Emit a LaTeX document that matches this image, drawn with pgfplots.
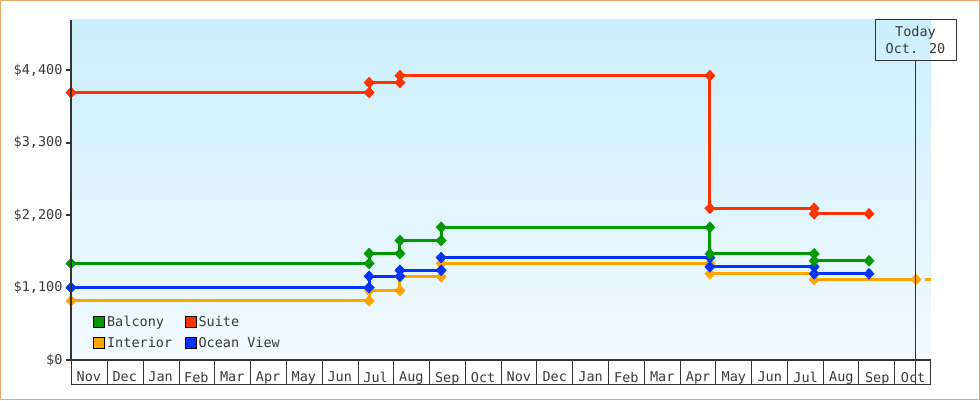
\documentclass[border=0pt]{standalone}
\usepackage{fontspec}
\setmainfont{DejaVu Sans Mono}
\usepackage{pgfplots}
\pgfplotsset{compat=1.18}

\definecolor{balcony}{HTML}{009A00}
\definecolor{suite}{HTML}{FF3300}
\definecolor{interior}{HTML}{FFA500}
\definecolor{ocean}{HTML}{0033FF}
\definecolor{bgtop}{HTML}{CBEFFC}
\definecolor{bgbot}{HTML}{F2FAFF}
\definecolor{axisdark}{HTML}{333333}
\definecolor{textgray}{HTML}{3A3A3A}
\definecolor{borderorange}{HTML}{E8A866}

\newcommand\chartfont{\fontsize{13.5}{17}\selectfont}

\pgfplotsset{
  ser/.style={line width=3pt, color=#1, mark=diamond*, mark size=5.5pt,
    mark options={solid, line width=0.4pt, fill=#1, xscale=1.25}, forget plot},
}

\begin{document}
\begin{tikzpicture}
\begin{axis}[
  name=ax, anchor=south west, at={(0pt,0pt)},
  scale only axis, width=860pt, height=340pt,
  xmin=0, xmax=24, ymin=0, ymax=5160,
  clip=false,
  axis line style={draw=none},
  axis background/.style={top color=bgtop, bottom color=bgbot},
  ytick={0,1100,2200,3300,4400},
  yticklabels={\$0,{\$1,100},{\$2,200},{\$3,300},{\$4,400}},
  xtick={0.5,1.5,...,23.5},
  xticklabels={Nov,Dec,Jan,Feb,Mar,Apr,May,Jun,Jul,Aug,Sep,Oct,Nov,Dec,Jan,Feb,Mar,Apr,May,Jun,Jul,Aug,Sep,Oct},
  xtick style={draw=none},
  ytick style={draw=axisdark, line width=2pt},
  tick align=outside, major tick length=5pt,
  ytick pos=left, xtick pos=bottom,
  /pgf/number format/assume math mode=true,
  tick label style={font=\chartfont, text=textgray},
  xticklabel style={yshift=-3.5pt},
  legend columns=2,
  legend cell align=left,
  legend style={draw=none, fill=none, at={(0.0256,0.137)}, anchor=north west,
    font=\chartfont, text=textgray, row sep=4pt, inner sep=0pt,
    /tikz/every even column/.append style={column sep=10pt},
    nodes={inner sep=2.5pt}},
  legend image code/.code={\fill[#1] (0pt,-5.5pt) rectangle (11pt,5.5pt);},
]
% Interior
\addplot[ser=interior] coordinates {
  (0,898) (8.32,898) (8.32,1054) (9.18,1054) (9.18,1262) (10.33,1262)
  (10.33,1464) (17.83,1464) (17.83,1308) (20.74,1308) (20.74,1221) (23.58,1221)
};
\addplot[interior, line width=3pt, dash pattern=on 6pt off 9pt, dash phase=6pt, forget plot]
  coordinates {(23.58,1221) (24,1221)};
% Ocean View
\addplot[ser=ocean] coordinates {
  (0,1100) (8.32,1100) (8.32,1271) (9.18,1271) (9.18,1362) (10.33,1362)
  (10.33,1555) (17.83,1555) (17.83,1414) (20.74,1414) (20.74,1308) (22.27,1308)
};
% Balcony
\addplot[ser=balcony] coordinates {
  (0,1464) (8.32,1464) (8.32,1616) (9.18,1616) (9.18,1813) (10.33,1813)
  (10.33,2015) (17.83,2015) (17.83,1611) (20.74,1611) (20.74,1505) (22.27,1505)
};
% Suite
\addplot[ser=suite] coordinates {
  (0,4058) (8.32,4058) (8.32,4210) (9.18,4210) (9.18,4316) (17.83,4316)
  (17.83,2303) (20.74,2303) (20.74,2218) (22.27,2218)
};
\addlegendimage{fill=balcony}
\addlegendentry{Balcony}
\addlegendimage{fill=suite}
\addlegendentry{Suite}
\addlegendimage{fill=interior}
\addlegendentry{Interior}
\addlegendimage{fill=ocean}
\addlegendentry{Ocean View}
\end{axis}
\pgfresetboundingbox
\begin{scope}[x=1pt, y=1pt, shift={(ax.south west)}, shift={(-71pt,-40pt)}]
\path[use as bounding box] (0,0) rectangle (980,400);
% axis lines and month cells
\draw[axisdark, line width=2pt] (71,380) -- (71,40);
\draw[axisdark, line width=2pt] (70,40) -- (931,40);
\draw[axisdark, line width=1pt] (71,15.5) -- (931,15.5);
\foreach \i in {0,...,24} \draw[axisdark, line width=1pt] ({71.8+35.78*\i},40) -- ({71.8+35.78*\i},15);
% today marker
\draw[axisdark, line width=1pt] (915.5,340) -- (915.5,15);
\node[draw=axisdark, line width=1pt, minimum width=81pt, minimum height=40pt,
  align=center, font=\chartfont, text=textgray, inner sep=0pt] at (915.5,360) {Today\\Oct. 20};
% outer frame
\draw[borderorange, line width=1.5pt] (0.75,0.75) rectangle (979.25,399.25);
\end{scope}
\end{tikzpicture}
\end{document}
